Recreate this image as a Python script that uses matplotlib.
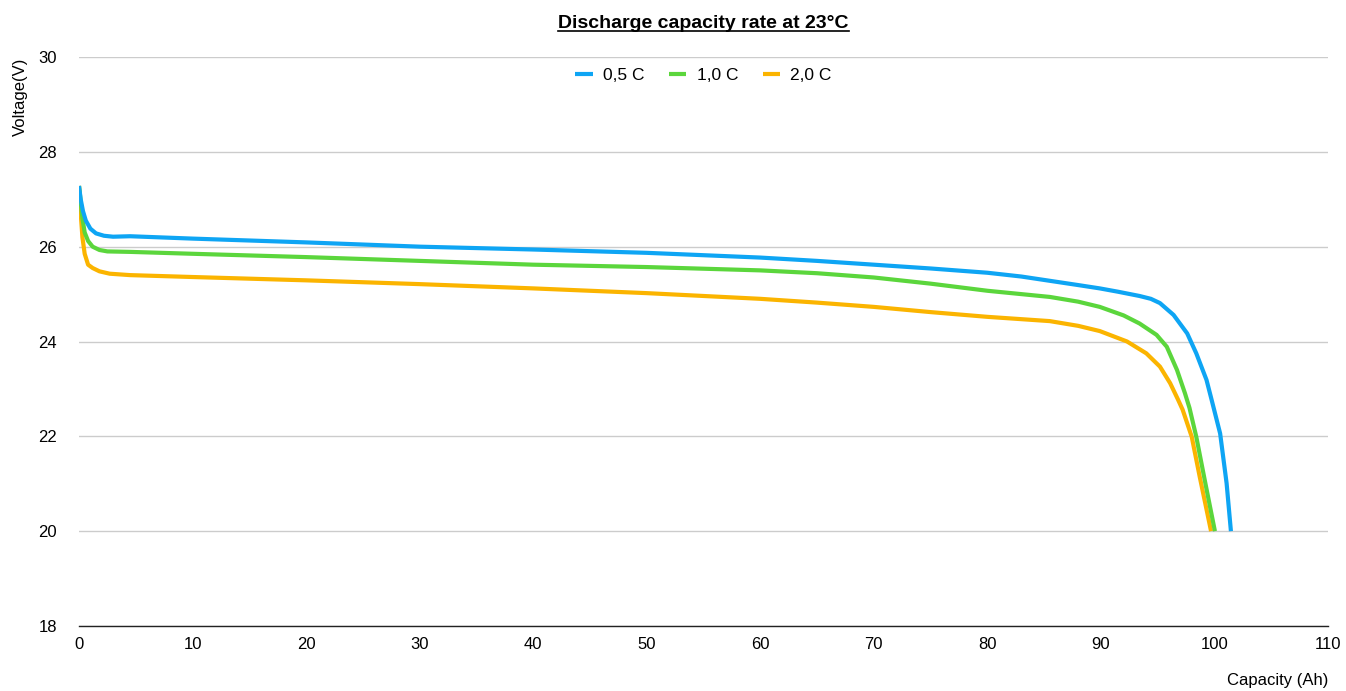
import matplotlib
matplotlib.use("Agg")
import matplotlib.pyplot as plt

# Data
cap_05 = [0, 0.15, 0.35, 0.6, 1.0, 1.5, 2.2, 3.0, 4.5, 10, 20, 30, 40, 50, 60, 65, 70, 75, 80, 83, 85.5, 88, 89.9,
          91.5, 93.4, 94.4, 95.2, 96.4, 97.6, 98.4, 99.3, 99.75, 100.5, 101.07, 101.45]
v_05 = [27.28, 27.0, 26.75, 26.55, 26.38, 26.28, 26.23, 26.21, 26.22, 26.17, 26.09, 26.0, 25.94, 25.87,
        25.77, 25.7, 25.62, 25.54, 25.45, 25.37, 25.28, 25.19, 25.12, 25.05, 24.96, 24.9, 24.81, 24.56,
        24.17, 23.75, 23.19, 22.77, 22.06, 21.01, 20.0]

cap_10 = [0, 0.15, 0.3, 0.5, 0.8, 1.2, 1.8, 2.5, 4.5, 10, 20, 30, 40, 50, 60, 65, 70, 75, 80, 85.5, 88, 89.9,
          92, 93.4, 94.9, 95.8, 96.7, 97.4, 97.8, 98.4, 99.2, 100.04]
v_10 = [27.28, 26.95, 26.6, 26.3, 26.12, 26.0, 25.93, 25.9, 25.89, 25.85, 25.78, 25.7, 25.62, 25.57,
        25.5, 25.44, 25.35, 25.22, 25.07, 24.94, 24.84, 24.73, 24.55, 24.38, 24.14, 23.89, 23.4, 22.91,
        22.6, 21.99, 21.01, 20.0]

cap_20 = [0, 0.15, 0.3, 0.5, 0.8, 1.2, 1.8, 2.7, 4.5, 10, 20, 30, 40, 50, 60, 65, 70, 75, 80, 85.5, 88, 89.9,
          92.3, 94.0, 95.2, 96.1, 96.8, 97.2, 98.0, 98.7, 99.7]
v_20 = [27.28, 26.7, 26.2, 25.85, 25.62, 25.55, 25.48, 25.43, 25.4, 25.36, 25.29, 25.21, 25.12, 25.02,
        24.9, 24.82, 24.73, 24.62, 24.52, 24.43, 24.33, 24.22, 24.0, 23.75, 23.47, 23.12, 22.77, 22.56,
        21.99, 21.15, 20.0]

labels = ["0,5 C", "1,0 C", "2,0 C"]
colors = ["#0EA5F4", "#5BD63C", "#FBB400"]
xticks = [0, 10, 20, 30, 40, 50, 60, 70, 80, 90, 100, 110]
yticks = [18, 20, 22, 24, 26, 28, 30]

plt.rcParams['font.family'] = ['Liberation Sans', 'DejaVu Sans']

fig = plt.figure(figsize=(13.46, 6.91), dpi=100)
ax = fig.add_axes([79/1346, 1-626/691, (1328-79)/1346, (626-57)/691])

series = [(cap_05, v_05), (cap_10, v_10), (cap_20, v_20)]
zorders = [5, 4, 3]
for (x, y), lab, c, z in zip(series, labels, colors, zorders):
    ax.plot(x, y, color=c, lw=3, label=lab, zorder=z, solid_capstyle='butt', solid_joinstyle='round')

ax.set_xlim(0, 110)
ax.set_ylim(18, 30)
ax.set_xticks(xticks)
ax.set_yticks(yticks)
ax.tick_params(axis='both', length=0, labelsize=12)
ax.tick_params(axis='y', pad=16)
ax.tick_params(axis='x', pad=8)
ax.grid(axis='y', color='#cccccc', lw=1)
ax.set_axisbelow(True)
for s in ['top', 'right', 'left']:
    ax.spines[s].set_visible(False)
ax.spines['bottom'].set_color('#222222')
ax.spines['bottom'].set_linewidth(1)

fig.text(20/1346, 1-97/691, "Voltage(V)", rotation=90, ha='center', va='center', fontsize=12)
fig.text(1328/1346, 1-680/691, "Capacity (Ah)", ha='right', va='center', fontsize=12)

t = fig.text(703.5/1346, 1-23/691, "Discharge capacity rate at 23°C", ha='center', va='center',
             fontsize=14, fontweight='bold')
fig.canvas.draw()
bb = t.get_window_extent()
fig.add_artist(plt.Line2D([bb.x0/1346, bb.x1/1346], [(bb.y0+1)/691, (bb.y0+1)/691],
                          transform=fig.transFigure, color='black', lw=1.2))

leg = ax.legend(loc='upper center', bbox_to_anchor=(0.5, 1.008), ncol=3, frameon=False,
                fontsize=12.5, handlelength=1.0, handletextpad=0.6, columnspacing=1.4)

fig.savefig("out.png", dpi=100)
